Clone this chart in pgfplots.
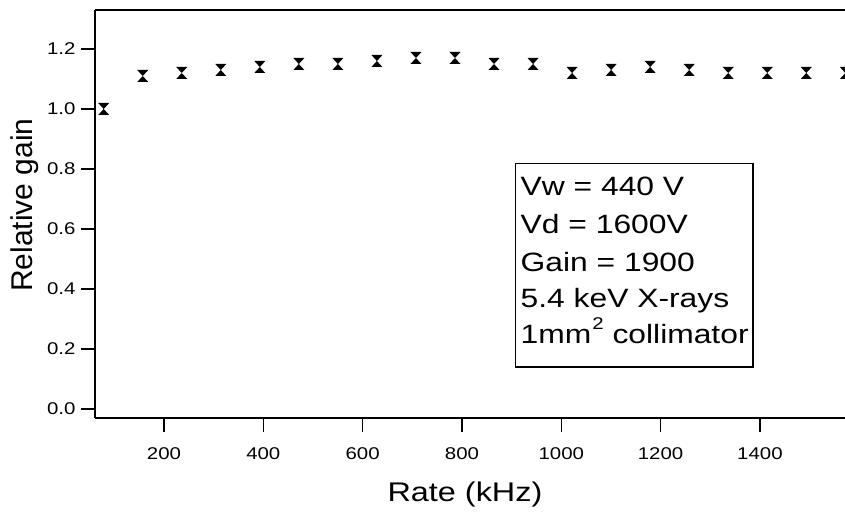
\documentclass[border=0pt]{standalone}
\usepackage{graphicx}
\usepackage{pgfplots}
\pgfplotsset{compat=1.18}
\usepackage{fontspec}
\setmainfont{Liberation Sans}[FakeStretch=1.2]
\newfontfamily\ylabfont{Liberation Sans}
\pgfdeclareplotmark{hourglass}{%
  \pgfpathmoveto{\pgfqpoint{-5.5pt}{6pt}}%
  \pgfpathlineto{\pgfqpoint{5.5pt}{6pt}}%
  \pgfpathlineto{\pgfqpoint{-5.5pt}{-6pt}}%
  \pgfpathlineto{\pgfqpoint{5.5pt}{-6pt}}%
  \pgfpathclose
  \pgfusepathqfill}
\pgfplotstableread{
x y
78.6 1.00
157.2 1.11
235.8 1.12
314.4 1.13
393.0 1.14
471.6 1.15
550.2 1.15
628.8 1.16
707.4 1.17
786.0 1.17
864.6 1.15
943.2 1.15
1021.8 1.12
1100.4 1.13
1179.0 1.14
1257.6 1.13
1336.2 1.12
1414.8 1.12
1493.4 1.12
1572.0 1.12
}\gaindata
\begin{document}
\begin{tikzpicture}
\path[use as bounding box] (0,0) rectangle (845pt,512pt);
\begin{axis}[
  at={(95pt,94pt)}, anchor=south west,
  scale only axis, width=754.3pt, height=408pt,
  xmin=61.1, xmax=1580, ymin=-0.03, ymax=1.33,
  axis x line=bottom, axis y line=left,
  axis line style={-, line width=1.4pt, black},
  tick align=outside,
  major tick length=14pt,
  every tick/.style={black, line width=1.2pt},
  xtick={200,400,...,1400},
  ytick={0,0.2,0.4,0.6,0.8,1.0,1.2},
  yticklabel style={xshift=-2pt, /pgf/number format/.cd, fixed, fixed zerofill, precision=1},
  /pgf/number format/assume math mode=true,
  /pgf/number format/1000 sep={},
  ticklabel style={font=\fontsize{17}{20}\selectfont},
  xticklabel style={anchor=base, yshift=-27pt},
  xlabel={Rate (kHz)}, ylabel={Relative gain},
  xlabel style={at={(axis description cs:0.4905,-0.205)}, anchor=base,
    font=\fontsize{27}{32}\selectfont},
  ylabel style={at={(axis description cs:-0.0822,0.522)}, anchor=base,
    font=\ylabfont\fontsize{30}{34}\selectfont},
  clip=false,
]
\addplot[only marks, mark=hourglass, black] table[x=x, y=y] {\gaindata};
\draw[line width=1.4pt] (rel axis cs:0,1) -- (rel axis cs:1,1);
\end{axis}
\draw[line width=1.2pt] (515.7pt,145pt) rectangle (753pt,348.7pt);
\begin{scope}[every node/.style={anchor=base west, inner sep=0pt, font=\fontsize{26.5}{30}\selectfont}]
\node at (520.5pt,316.3pt) {Vw = 440 V};
\node at (520.5pt,278.7pt) {Vd = 1600V};
\node at (520.5pt,241.0pt) {Gain = 1900};
\node at (520.5pt,205.0pt) {5.4 keV X-rays};
\node at (520.5pt,168.5pt) {1mm\hspace{1pt}\raisebox{0.52em}{\fontsize{17}{20}\selectfont 2} collimator};
\end{scope}
\end{tikzpicture}
\end{document}
